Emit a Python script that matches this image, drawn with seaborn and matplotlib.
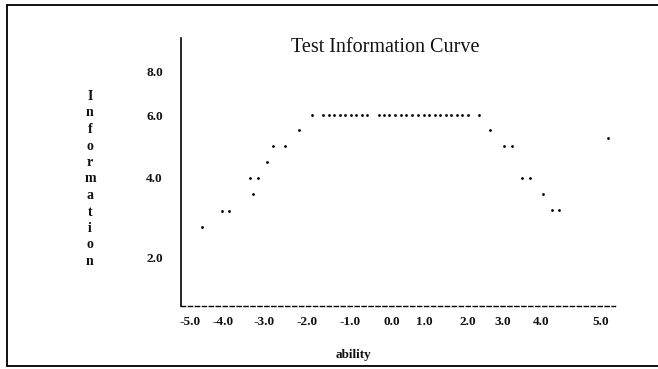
import numpy as np
import pandas as pd
import matplotlib
matplotlib.use("Agg")
import matplotlib.pyplot as plt
import seaborn as sns
from matplotlib.lines import Line2D

# ---------------- data ----------------
title = "Test Information Curve"
x_label = "ability"
y_label = "Information"

x_tick_values = [-5, -4, -3, -2, -1, 0, 1, 2, 3, 4, 5]
x_tick_labels = ["-5.0", "-4.0", "-3.0", "-2.0", "-1.0", "0.0", "1.0", "2.0", "3.0", "4.0", "5.0"]
y_tick_values = [2, 4, 6, 8]
y_tick_labels = ["2.0", "4.0", "6.0", "8.0"]

ability = [-4.64, -4.03, -3.85, -3.33, -3.28, -3.15, -2.93, -2.80, -2.52, -2.18,
           -1.88, -1.63, -1.50, -1.37, -1.24, -1.11, -0.98, -0.85, -0.72, -0.59,
           -0.32, -0.19, -0.06, 0.10, 0.27, 0.45, 0.63, 0.81, 0.99, 1.12,
           1.24, 1.37, 1.49, 1.62, 1.75, 1.87, 2.00, 2.31,
           2.63, 3.03, 3.24, 3.50, 3.71, 4.03, 4.18, 4.30, 5.12]
information = [2.78, 3.18, 3.18, 4.00, 3.60, 4.00, 4.51, 5.02, 5.02, 5.52,
               6.00, 6.00, 6.00, 6.00, 6.00, 6.00, 6.00, 6.00, 6.00, 6.00,
               6.00, 6.00, 6.00, 6.00, 6.00, 6.00, 6.00, 6.00, 6.00, 6.00,
               6.00, 6.00, 6.00, 6.00, 6.00, 6.00, 6.00, 6.00,
               5.52, 5.02, 5.02, 4.00, 4.00, 3.60, 3.20, 3.20, 5.27]

df = pd.DataFrame({"ability": ability, "information": information})

# ---------------- layout: the printed axis is not evenly spaced ----------------
W, H = 658, 369
x_knot_vals = [-5.27, -5, -4, -3, -2, -1, 0, 1, 2, 3, 4, 5, 5.23]
x_knot_pix = [181, 190, 223, 264, 307, 350, 392, 424, 468, 503, 541, 601, 615]
y_knot_vals = [0.8, 2, 4, 6, 8, 9.5]
y_knot_pix = [H - 306, H - 258, H - 178, H - 115, H - 71, H - 38]

def fx(v):
    return np.interp(v, x_knot_vals, x_knot_pix, left=-1e4, right=1e4)

def fx_inv(u):
    return np.interp(u, x_knot_pix, x_knot_vals)

def fy(v):
    return np.interp(v, y_knot_vals, y_knot_pix, left=-1e4, right=1e4)

def fy_inv(u):
    return np.interp(u, y_knot_pix, y_knot_vals)

sns.set_style("white")
plt.rcParams["font.family"] = ["Liberation Serif", "DejaVu Serif"]

fig = plt.figure(figsize=(W / 100, H / 100), dpi=100)
fig.patch.set_facecolor("white")
ax = fig.add_axes([181 / W, (H - 306) / H, (615 - 181) / W, (306 - 38) / H])
ax.set_xscale("function", functions=(fx, fx_inv))
ax.set_yscale("function", functions=(fy, fy_inv))

sns.scatterplot(data=df, x="ability", y="information", ax=ax,
                color="black", marker="o", s=4, linewidth=0, legend=False)

ax.set_xlim(-5.27, 5.23)
ax.set_ylim(0.8, 9.5)
ax.set_xticks(x_tick_values)
ax.set_xticklabels(x_tick_labels, fontsize=9.5, fontweight="bold")
ax.set_yticks(y_tick_values)
ax.set_yticklabels(y_tick_labels, fontsize=9.5, fontweight="bold")
ax.minorticks_off()
ax.tick_params(axis="both", length=0, colors="#111111")
ax.tick_params(axis="x", pad=7)
ax.tick_params(axis="y", pad=13)
ax.set_xlabel("")
ax.set_ylabel("")

for s in ["top", "right"]:
    ax.spines[s].set_visible(False)
ax.spines["left"].set_color("black")
ax.spines["left"].set_linewidth(1.2)
ax.spines["bottom"].set_color("black")
ax.spines["bottom"].set_linewidth(1.0)
ax.spines["bottom"].set_linestyle((0, (3, 2)))

fig.text(385 / W, 1 - 47 / H, title, ha="center", va="center", fontsize=14.5, color="#111111")
fig.text(353 / W, 1 - 355 / H, x_label, ha="center", va="center", fontsize=9.5,
         fontweight="bold", color="#111111")
fig.text(90 / W, 1 - 179 / H, "\n".join(list(y_label)), ha="center", va="center",
         fontsize=10, fontweight="bold", linespacing=1.35, color="#111111")

# outer frame
frame_kw = dict(transform=fig.transFigure, color="black", linewidth=1.3)
fig.add_artist(Line2D([7 / W, 7 / W], [1 - 5 / H, 1 - 366 / H], **frame_kw))
fig.add_artist(Line2D([7 / W, 1.0], [1 - 5 / H, 1 - 5 / H], **frame_kw))
fig.add_artist(Line2D([7 / W, 1.0], [1 - 366 / H, 1 - 366 / H], **frame_kw))

fig.savefig("out.png", dpi=100, facecolor="white")
